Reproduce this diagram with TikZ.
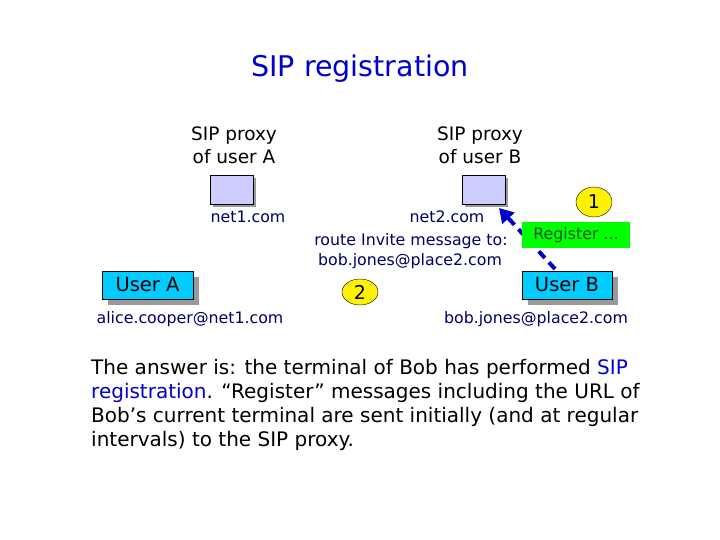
\documentclass[tikz,border=0pt]{standalone}
\usepackage{fontspec}
\setmainfont{DejaVu Sans}
\usetikzlibrary{shapes.geometric,arrows.meta}
\definecolor{tblue}{HTML}{0000CC}
\definecolor{navy}{HTML}{000066}
\definecolor{lav}{HTML}{CCCCFF}
\definecolor{cyanb}{HTML}{00CCFF}
\tikzset{
  px/.style={x=1pt,y=-1pt},
  proxy/.style={draw=black,fill=lav,minimum width=43pt,minimum height=29pt,inner sep=0pt},
  user/.style={draw=black,fill=cyanb,minimum width=91pt,minimum height=28pt,inner sep=0pt,font=\fontsize{19.5}{22}\selectfont},
  shad/.style={fill=gray!80,draw=none},
  lbl/.style={text=navy,font=\fontsize{15.8}{18}\selectfont,inner sep=0pt},
  hdr/.style={align=center,font=\fontsize{18.5}{23}\selectfont,inner sep=0pt},
  num/.style={ellipse,draw=black,fill=yellow,inner sep=0pt,font=\fontsize{19}{20}\selectfont}
}
\begin{document}
\begin{tikzpicture}[px]
\useasboundingbox (0,0) rectangle (720,540);
\node[text=tblue,font=\fontsize{28.5}{30}\selectfont] (title) at (360,69) {SIP registration};
\node[hdr] (ha) at (234,145) {SIP proxy\\of user A};
\node[hdr] (hb) at (480,145) {SIP proxy\\of user B};
\fill[shad] (213,178) rectangle (256,207);
\node[proxy] (pa) at (231.5,189.5) {};
\fill[shad] (465,178) rectangle (508,207);
\node[proxy] (pb) at (483.5,189.5) {};
\node[lbl] (n1) at (248,217) {net1.com};
\node[lbl] (n2) at (447,217) {net2.com};
\node[lbl] (r1) at (411,241) {route Invite message to:};
\node[lbl] (r2) at (410,261) {bob.jones@place2.com};
\fill[shad] (108,277) rectangle (199,305);
\node[user] (ua) at (147.5,285) {User A};
\fill[shad] (528,277) rectangle (618,305);
\node[user,minimum width=90pt] (ub) at (567,285) {User B};
\node[lbl] (ea) at (190,319) {alice.cooper@net1.com};
\node[lbl] (eb) at (536,319) {bob.jones@place2.com};
\node[num,minimum width=36pt,minimum height=30pt] (o1) at (594,202) {1};
\node[num,minimum width=36pt,minimum height=26pt] (o2) at (360,292) {2};
\coordinate (s) at (555,269);
\coordinate (t) at (499,208);
\draw[blue!80!black,line width=4pt,dash pattern=on 9pt off 6pt,-{Triangle[length=14pt,width=16pt]}] (s) -- (t);
\node[fill=green,minimum width=108pt,minimum height=26pt,inner sep=0pt,text=gray!40!green!40!black,font=\fontsize{15.8}{18}\selectfont] (reg) at (576,235) {Register ...};
\node[anchor=north west,align=left,font=\fontsize{20}{24}\selectfont,inner sep=0pt] (para) at (91,359) {The answer is: the terminal of Bob has performed \textcolor{tblue}{SIP}\\\textcolor{tblue}{registration}. “Register” messages including the URL of\\Bob’s current terminal are sent initially (and at regular\\intervals) to the SIP proxy.};
\end{tikzpicture}
\end{document}
